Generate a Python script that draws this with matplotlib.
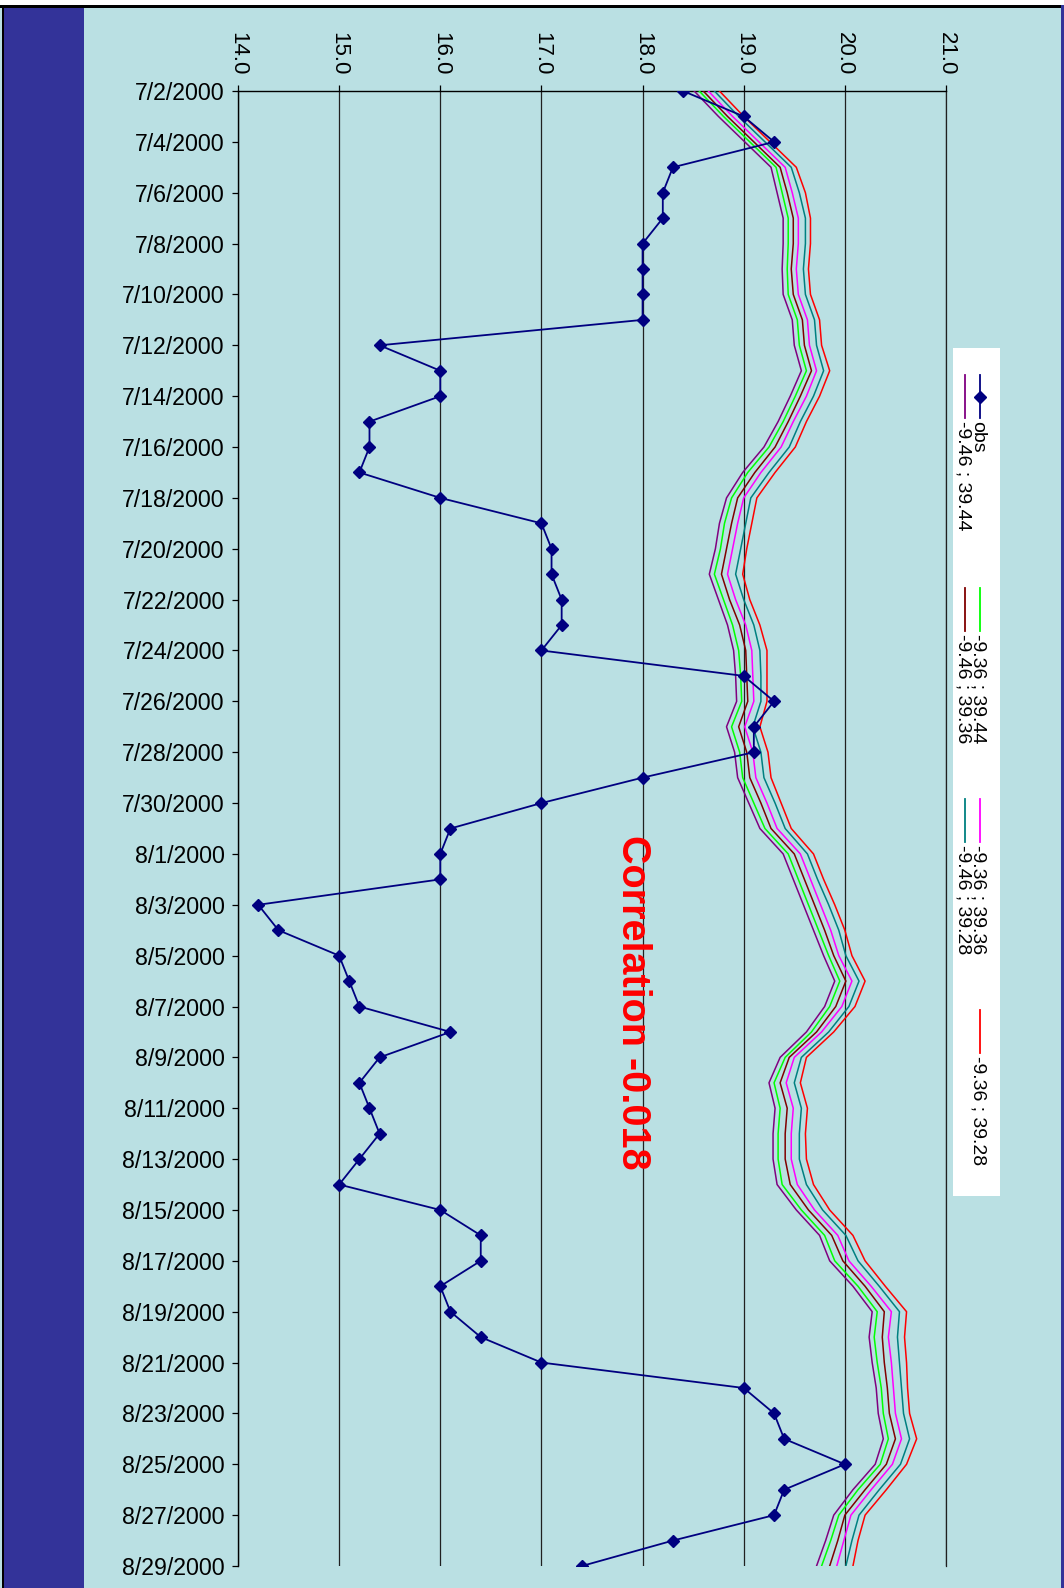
import numpy as np
import pandas as pd
import matplotlib
matplotlib.use("Agg")
import matplotlib.pyplot as plt
from matplotlib.patches import Rectangle
from matplotlib.lines import Line2D

plt.rcParams['font.family'] = ['Liberation Sans', 'DejaVu Sans']

W, H = 1064, 1588

# daily series, 2 July to 29 August 2000
dates = pd.date_range('2000-07-02', '2000-08-29', freq='D')

obs = [18.4, 19.0, 19.3, 18.3, 18.2, 18.2, 18.0, 18.0, 18.0, 18.0,
       15.4, 16.0, 16.0, 15.3, 15.3, 15.2, 16.0, 17.0, 17.1, 17.1,
       17.2, 17.2, 17.0, 19.0, 19.3, 19.1, 19.1, 18.0, 17.0, 16.1,
       16.0, 16.0, 14.2, 14.4, 15.0, 15.1, 15.2, 16.1, 15.4, 15.2,
       15.3, 15.4, 15.2, 15.0, 16.0, 16.4, 16.4, 16.0, 16.1, 16.4,
       17.0, 19.0, 19.3, 19.4, 20.0, 19.4, 19.3, 18.3, 17.4]

m_946_3944 = [18.51, 18.75, 19.01, 19.27, 19.33, 19.39, 19.39, 19.38, 19.39, 19.48,
              19.50, 19.57, 19.46, 19.34, 19.20, 18.99, 18.83, 18.76, 18.72, 18.66,
              18.75, 18.84, 18.90, 18.92, 18.93, 18.83, 18.91, 18.94, 19.05, 19.16,
              19.39, 19.49, 19.59, 19.69, 19.79, 19.90, 19.80, 19.62, 19.36, 19.25,
              19.31, 19.29, 19.29, 19.33, 19.52, 19.75, 19.85, 20.08, 20.27, 20.24,
              20.27, 20.31, 20.33, 20.38, 20.30, 20.08, 19.89, 19.81, 19.72]

m_936_3944 = [18.56, 18.80, 19.06, 19.32, 19.38, 19.44, 19.44, 19.43, 19.44, 19.53,
              19.55, 19.62, 19.51, 19.39, 19.25, 19.04, 18.88, 18.81, 18.77, 18.71,
              18.80, 18.89, 18.95, 18.97, 18.98, 18.88, 18.96, 18.99, 19.10, 19.21,
              19.44, 19.54, 19.64, 19.74, 19.84, 19.95, 19.85, 19.67, 19.41, 19.30,
              19.36, 19.34, 19.34, 19.38, 19.57, 19.80, 19.90, 20.13, 20.32, 20.29,
              20.32, 20.36, 20.38, 20.43, 20.35, 20.13, 19.94, 19.86, 19.77]

m_946_3936 = [18.60, 18.84, 19.10, 19.36, 19.43, 19.49, 19.49, 19.47, 19.49, 19.58,
              19.60, 19.67, 19.56, 19.44, 19.31, 19.11, 18.94, 18.88, 18.83, 18.78,
              18.86, 18.96, 19.02, 19.03, 19.04, 18.95, 19.03, 19.06, 19.17, 19.27,
              19.50, 19.60, 19.70, 19.80, 19.89, 20.01, 19.91, 19.72, 19.45, 19.36,
              19.43, 19.41, 19.41, 19.46, 19.64, 19.87, 19.98, 20.20, 20.39, 20.37,
              20.39, 20.42, 20.44, 20.50, 20.41, 20.20, 20.00, 19.93, 19.85]

m_936_3936 = [18.65, 18.89, 19.15, 19.41, 19.48, 19.54, 19.54, 19.52, 19.54, 19.63,
              19.65, 19.72, 19.62, 19.49, 19.37, 19.17, 19.00, 18.94, 18.89, 18.84,
              18.92, 19.02, 19.08, 19.09, 19.10, 19.01, 19.09, 19.12, 19.23, 19.33,
              19.56, 19.66, 19.76, 19.86, 19.94, 20.07, 19.97, 19.77, 19.50, 19.42,
              19.49, 19.47, 19.47, 19.53, 19.70, 19.93, 20.04, 20.26, 20.46, 20.43,
              20.46, 20.48, 20.50, 20.56, 20.47, 20.26, 20.06, 19.99, 19.92]

m_946_3928 = [18.71, 18.95, 19.21, 19.47, 19.55, 19.61, 19.61, 19.59, 19.61, 19.70,
              19.72, 19.79, 19.69, 19.56, 19.45, 19.25, 19.07, 19.02, 18.97, 18.92,
              19.00, 19.10, 19.16, 19.17, 19.17, 19.09, 19.17, 19.20, 19.31, 19.41,
              19.63, 19.73, 19.84, 19.94, 20.01, 20.14, 20.04, 19.84, 19.57, 19.50,
              19.57, 19.55, 19.55, 19.62, 19.78, 20.01, 20.13, 20.34, 20.54, 20.52,
              20.54, 20.56, 20.58, 20.64, 20.55, 20.34, 20.14, 20.07, 20.01]

m_936_3928 = [18.76, 19.00, 19.26, 19.52, 19.61, 19.66, 19.66, 19.64, 19.66, 19.75,
              19.77, 19.85, 19.75, 19.62, 19.51, 19.31, 19.13, 19.08, 19.03, 18.99,
              19.06, 19.16, 19.23, 19.23, 19.23, 19.16, 19.24, 19.27, 19.37, 19.47,
              19.69, 19.79, 19.90, 20.00, 20.07, 20.20, 20.10, 19.89, 19.62, 19.56,
              19.63, 19.61, 19.62, 19.69, 19.85, 20.08, 20.20, 20.40, 20.61, 20.59,
              20.61, 20.62, 20.64, 20.71, 20.61, 20.41, 20.20, 20.13, 20.08]

model_labels = ['-9.46 ; 39.44', '-9.36 ; 39.44', '-9.46 ; 39.36',
                '-9.36 ; 39.36', '-9.46 ; 39.28', '-9.36 ; 39.28']
model_values = [m_946_3944, m_936_3944, m_946_3936,
                m_936_3936, m_946_3928, m_936_3928]
model_colors = ['#800080', '#00FF00', '#800000', '#FF00FF', '#008080', '#FF0000']

value_ticks = np.arange(14, 22)
corr_text = 'Correlation -0.018'

bg = '#BAE0E3'
navy = '#000080'


def fx(x):
    return x / W


def fy(y):
    return 1 - y / H


fig = plt.figure(figsize=(W / 100, H / 100), dpi=100, facecolor=bg)

# frame pieces: white top margin, black border, blue strips
fig.add_artist(Rectangle((0, fy(5)), 1, 5 / H, transform=fig.transFigure,
                         facecolor='white', edgecolor='none', zorder=-2))
fig.add_artist(Rectangle((0, fy(7.5)), fx(1061), 2.5 / H, transform=fig.transFigure,
                         facecolor='black', edgecolor='none', zorder=-1))
fig.add_artist(Rectangle((fx(1.5), 0), 2 / W, fy(5), transform=fig.transFigure,
                         facecolor='black', edgecolor='none', zorder=-1))
fig.add_artist(Rectangle((fx(3.5), 0), 80.5 / W, fy(7.5), transform=fig.transFigure,
                         facecolor='#333399', edgecolor='none', zorder=-1))
fig.add_artist(Rectangle((fx(1061), 0), 3 / W, fy(5), transform=fig.transFigure,
                         facecolor='#333399', edgecolor='none', zorder=-1))

ax = fig.add_axes([fx(238), fy(1566), (946 - 238) / W, (1566 - 91) / H])
ax.set_facecolor('none')

for vals, col in zip(model_values, model_colors):
    ax.plot(vals, dates, color=col, lw=1.1, zorder=3)
ax.plot(obs, dates, color=navy, lw=1.3, marker='D', ms=6.5, zorder=4)

ax.set_xlim(14, 21)
ax.set_ylim(dates[-1], dates[0])

ax.set_xticks(value_ticks)
ax.set_xticklabels([f'{v:.1f}' for v in value_ticks])
tick_dates = dates[::2]
ax.set_yticks(tick_dates)
ax.set_yticklabels([f'{d.month}/{d.day}/{d.year}' for d in tick_dates])

ax.xaxis.grid(True, color='#202020', lw=0.9)
ax.set_axisbelow(True)
ax.spines['bottom'].set_visible(False)
ax.spines['right'].set_color('#202020')
ax.spines['right'].set_linewidth(0.9)
for side in ['top', 'left']:
    ax.spines[side].set_color('black')
    ax.spines[side].set_linewidth(1.0)

ax.tick_params(axis='x', top=True, bottom=False, labeltop=True, labelbottom=False,
               direction='out', length=4.5, width=0.9, pad=6.5,
               labelsize=16, labelrotation=-90, colors='black')
ax.tick_params(axis='y', right=False, direction='out', length=4.5, width=0.9, pad=5,
               labelsize=16.7, colors='black')

# legend, laid out sideways like the rest of the chart
fig.add_artist(Rectangle((fx(953), fy(1196)), 47 / W, (1196 - 348) / H,
                         transform=fig.transFigure, facecolor='white',
                         edgecolor='none', zorder=1))
entries = [('obs', navy, True)] + [(l, c, False) for l, c in zip(model_labels, model_colors)]
rows_x = [980, 965]
cols_y = [375, 588, 799, 1010]
for i, (label, col, has_marker) in enumerate(entries):
    x = rows_x[i % 2]
    y0 = cols_y[i // 2]
    fig.add_artist(Line2D([fx(x), fx(x)], [fy(y0), fy(y0 + 43)],
                          transform=fig.transFigure, color=col, lw=1.3, zorder=2))
    if has_marker:
        fig.add_artist(Line2D([fx(x)], [fy(y0 + 21.5)], transform=fig.transFigure,
                              color=col, marker='D', ms=6.5, zorder=2))
    fig.text(fx(x), fy(y0 + 46), label, rotation=-90, rotation_mode='anchor',
             ha='left', va='center_baseline', fontsize=14, color='black', zorder=3)

fig.text(fx(633), fy(1002), corr_text, rotation=-90, color='red',
         fontsize=28.5, fontweight='bold', ha='center', va='center', zorder=5)

fig.savefig('out.png', dpi=100, facecolor=bg)
